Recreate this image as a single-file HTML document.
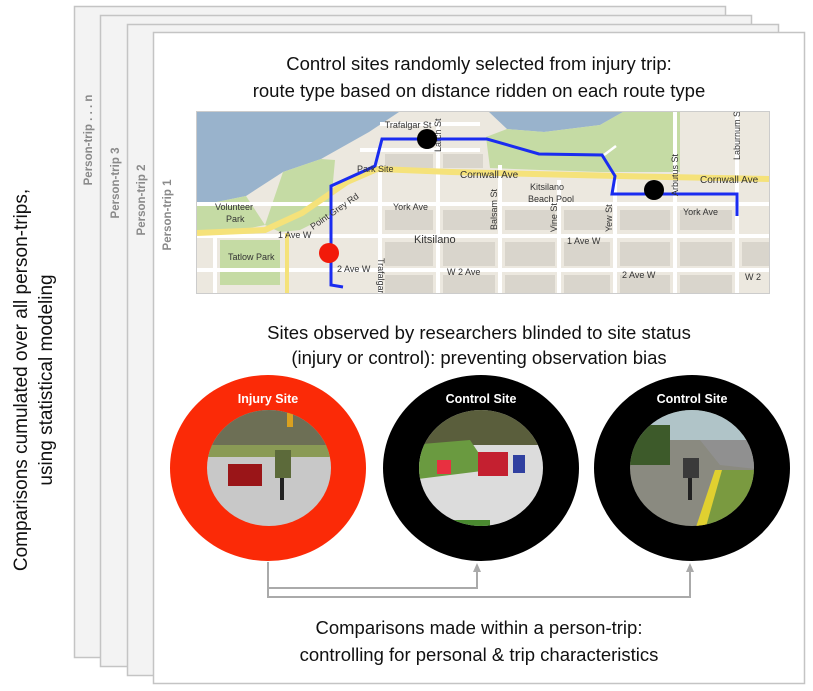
<!DOCTYPE html>
<html><head><meta charset="utf-8"><style>
html,body{margin:0;padding:0;background:#fff;}
svg{display:block;font-family:"Liberation Sans",sans-serif;}
</style></head><body>
<svg width="813" height="691" viewBox="0 0 813 691" xmlns="http://www.w3.org/2000/svg">
<defs>
<clipPath id="e1"><ellipse cx="269" cy="468" rx="62" ry="58"/></clipPath>
<clipPath id="e2"><ellipse cx="481" cy="468" rx="62" ry="58"/></clipPath>
<clipPath id="e3"><ellipse cx="692" cy="468" rx="62" ry="58"/></clipPath>
<clipPath id="mapc"><rect x="197" y="112" width="572" height="181"/></clipPath>
</defs>
<!-- stacked frames -->
<rect x="74.5" y="6.5" width="651" height="651" fill="#f3f3f3" stroke="#c4c4c4" stroke-width="1.5"/>
<rect x="100.5" y="15.5" width="651" height="651" fill="#f3f3f3" stroke="#c4c4c4" stroke-width="1.5"/>
<rect x="127.5" y="24.5" width="651" height="651" fill="#f3f3f3" stroke="#c4c4c4" stroke-width="1.5"/>
<rect x="153.5" y="32.5" width="651" height="651" fill="#fff" stroke="#c4c4c4" stroke-width="1.5"/>
<g fill="#8a8a8a" font-size="11.5" font-weight="bold" text-anchor="middle">
<text transform="translate(92,140) rotate(-90)">Person-trip . . . n</text>
<text transform="translate(119,183) rotate(-90)">Person-trip 3</text>
<text transform="translate(145,200) rotate(-90)">Person-trip 2</text>
<text transform="translate(171,215) rotate(-90)">Person-trip 1</text>
</g>
<g fill="#111" font-size="19" text-anchor="middle">
<text transform="translate(27,380) rotate(-90)">Comparisons cumulated over all person-trips,</text>
<text transform="translate(52,380) rotate(-90)">using statistical modeling</text>
</g>
<g fill="#111" font-size="18.5" text-anchor="middle">
<text x="479" y="70">Control sites randomly selected from injury trip:</text>
<text x="479" y="97">route type based on distance ridden on each route type</text>
<text x="479" y="339">Sites observed by researchers blinded to site status</text>
<text x="479" y="364">(injury or control): preventing observation bias</text>
<text x="479" y="634">Comparisons made within a person-trip:</text>
<text x="479" y="661">controlling for personal &amp; trip characteristics</text>
</g>
<!-- map -->
<rect x="196.5" y="111.5" width="573" height="182" fill="#ece8df" stroke="#ccc"/>
<g clip-path="url(#mapc)">
<polygon points="197,112 399,112 384,122 369,132 321,159 283,172 246,196 197,206" fill="#99b3cc"/>
<polygon points="489,112 623,112 600,125 544,132 507,129" fill="#99b3cc"/>
<polygon points="486,137 507,129 544,132 600,125 623,112 680,112 680,172 600,172 540,170 490,168" fill="#c5dba4"/>
<polygon points="283,172 321,159 335,160 330,215 300,230 280,232 265,225" fill="#c5dba4"/>
<polygon points="220,240 280,240 280,285 220,285" fill="#c5dba4"/>
<polygon points="197,206 246,196 265,225 230,232 197,232" fill="#c5dba4"/>
<g stroke="#fff" stroke-width="4" fill="none">
<line x1="197" y1="204" x2="769" y2="204"/>
<line x1="197" y1="236" x2="769" y2="236"/>
<line x1="197" y1="270" x2="769" y2="270"/>
<line x1="380" y1="165" x2="380" y2="293"/>
<line x1="438" y1="120" x2="438" y2="293"/>
<line x1="500" y1="165" x2="500" y2="293"/>
<line x1="559" y1="180" x2="559" y2="293"/>
<line x1="615" y1="180" x2="615" y2="293"/>
<line x1="675" y1="112" x2="675" y2="293"/>
<line x1="737" y1="112" x2="737" y2="293"/>
<line x1="215" y1="236" x2="215" y2="293"/>
<line x1="360" y1="150" x2="480" y2="150"/>
<line x1="380" y1="124" x2="480" y2="124"/>
</g>
<g fill="#d9d5cc">
<rect x="385" y="210" width="48" height="20"/><rect x="443" y="210" width="52" height="20"/><rect x="505" y="210" width="50" height="20"/><rect x="564" y="210" width="46" height="20"/><rect x="620" y="210" width="50" height="20"/><rect x="680" y="210" width="52" height="20"/>
<rect x="385" y="242" width="48" height="24"/><rect x="443" y="242" width="52" height="24"/><rect x="505" y="242" width="50" height="24"/><rect x="564" y="242" width="46" height="24"/><rect x="620" y="242" width="50" height="24"/><rect x="680" y="242" width="52" height="24"/><rect x="742" y="242" width="27" height="24"/>
<rect x="385" y="275" width="48" height="18"/><rect x="443" y="275" width="52" height="18"/><rect x="505" y="275" width="50" height="18"/><rect x="564" y="275" width="46" height="18"/><rect x="620" y="275" width="50" height="18"/><rect x="680" y="275" width="52" height="18"/>
<rect x="385" y="154" width="48" height="14"/><rect x="443" y="154" width="40" height="14"/>
</g>
<polyline points="197,233 265,230 302,213 347,182 377,169 451,172 619,176 769,179" fill="none" stroke="#f5e27a" stroke-width="6"/>
<line x1="287" y1="233" x2="287" y2="293" stroke="#f5e27a" stroke-width="4"/>
<polyline points="343,287 331,285 331,186 375,166 382,139 487,139 539,154 602,155 615,176 612,194 737,194 737,216" fill="none" stroke="#1a2cf0" stroke-width="3"/>
<line x1="604" y1="155" x2="616" y2="146" stroke="#fff" stroke-width="2.5"/>
<g fill="#333" font-size="9">
<text x="408" y="128" text-anchor="middle">Trafalgar St</text>
<text x="357" y="172">Park Site</text>
<text x="460" y="178" font-size="10">Cornwall Ave</text>
<text x="700" y="183" font-size="10">Cornwall Ave</text>
<text x="530" y="190">Kitsilano</text>
<text x="528" y="202">Beach Pool</text>
<text x="393" y="210">York Ave</text>
<text x="683" y="215">York Ave</text>
<text x="215" y="210">Volunteer</text>
<text x="226" y="222">Park</text>
<text x="278" y="238">1 Ave W</text>
<text x="414" y="243" font-size="11">Kitsilano</text>
<text x="567" y="244">1 Ave W</text>
<text x="228" y="260">Tatlow Park</text>
<text x="337" y="272">2 Ave W</text>
<text x="447" y="275">W 2 Ave</text>
<text x="622" y="278">2 Ave W</text>
<text x="745" y="280">W 2</text>
<text transform="translate(313,230) rotate(-35)">Point Grey Rd</text>
<text transform="translate(378,258) rotate(90)">Trafalgar St</text>
<text transform="translate(441,152) rotate(-90)">Larch St</text>
<text transform="translate(497,230) rotate(-90)">Balsam St</text>
<text transform="translate(557,232) rotate(-90)">Vine St</text>
<text transform="translate(612,232) rotate(-90)">Yew St</text>
<text transform="translate(678,196) rotate(-90)">Arbutus St</text>
<text transform="translate(740,160) rotate(-90)">Laburnum St</text>
</g>
<circle cx="427" cy="139" r="10" fill="#000"/>
<circle cx="654" cy="190" r="10" fill="#000"/>
<circle cx="329" cy="253" r="10" fill="#f21a0a"/>
</g>
<!-- circles -->
<ellipse cx="268" cy="468" rx="98" ry="93" fill="#fb2a07"/>
<ellipse cx="481" cy="468" rx="98" ry="93" fill="#000"/>
<ellipse cx="692" cy="468" rx="98" ry="93" fill="#000"/>
<g clip-path="url(#e1)">
<rect x="200" y="405" width="140" height="125" fill="#c8c8c8"/>
<rect x="200" y="405" width="140" height="45" fill="#6d6f55"/>
<rect x="200" y="445" width="140" height="12" fill="#8a9a55"/>
<rect x="228" y="464" width="34" height="22" fill="#9a1518"/>
<rect x="275" y="450" width="16" height="28" fill="#5c6a3a"/>
<rect x="280" y="478" width="4" height="22" fill="#222"/>
<rect x="287" y="413" width="6" height="14" fill="#d9a020"/>
</g>
<g clip-path="url(#e2)">
<rect x="410" y="405" width="140" height="125" fill="#dcdcdc"/>
<rect x="410" y="405" width="140" height="40" fill="#5a5e3c"/>
<polygon points="410,445 470,440 490,470 410,480" fill="#6a9a40"/>
<rect x="478" y="452" width="30" height="24" fill="#c42030"/>
<rect x="437" y="460" width="14" height="14" fill="#e83040"/>
<rect x="513" y="455" width="12" height="18" fill="#3040a0"/>
<rect x="440" y="520" width="50" height="8" fill="#4a8a30"/>
</g>
<g clip-path="url(#e3)">
<rect x="620" y="405" width="145" height="125" fill="#8a8a80"/>
<rect x="620" y="405" width="145" height="35" fill="#b0c4c8"/>
<rect x="620" y="425" width="50" height="40" fill="#3d5a2a"/>
<polygon points="700,440 765,440 765,470 720,465" fill="#909090"/>
<polygon points="720,470 765,470 765,530 700,530" fill="#7a9a40"/>
<polygon points="715,470 722,470 705,530 695,530" fill="#e0d030"/>
<rect x="683" y="458" width="16" height="20" fill="#3a3a3a"/>
<rect x="688" y="478" width="4" height="22" fill="#222"/>
</g>
<g fill="#fff" font-size="12.5" font-weight="bold" text-anchor="middle">
<text x="268" y="403">Injury Site</text>
<text x="481" y="403">Control Site</text>
<text x="692" y="403">Control Site</text>
</g>
<!-- connectors -->
<g stroke="#aaa" stroke-width="2" fill="none">
<polyline points="268,562 268,597 690,597 690,570"/>
<polyline points="268,588 477,588 477,570"/>
</g>
<polygon points="477,563 473,572 481,572" fill="#aaa"/>
<polygon points="690,563 686,572 694,572" fill="#aaa"/>
</svg>
</body></html>
